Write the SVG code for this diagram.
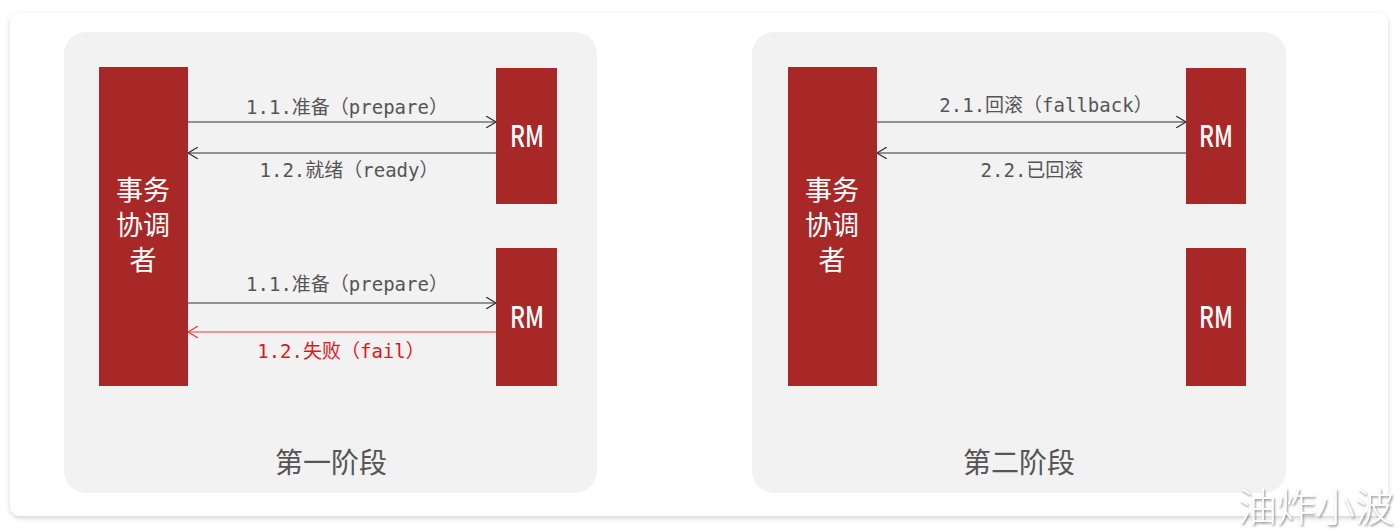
<svg xmlns="http://www.w3.org/2000/svg" width="1400" height="531" viewBox="0 0 1400 531">
<defs>
<filter id="sh" x="-5%" y="-5%" width="110%" height="115%"><feDropShadow dx="0" dy="2" stdDeviation="2.5" flood-color="#000" flood-opacity="0.18"/></filter>
<filter id="wm" x="-10%" y="-20%" width="120%" height="150%"><feDropShadow dx="1" dy="1.5" stdDeviation="1" flood-color="#666" flood-opacity="0.8"/></filter>
<marker id="ah" viewBox="0 0 10 12" refX="10" refY="6" markerWidth="10" markerHeight="12" markerUnits="userSpaceOnUse" orient="auto"><path d="M0,0 L10,6 L0,12" fill="none" stroke="#333" stroke-width="1.2"/></marker>
<marker id="ahr" viewBox="0 0 10 12" refX="10" refY="6" markerWidth="10" markerHeight="12" markerUnits="userSpaceOnUse" orient="auto"><path d="M0,0 L10,6 L0,12" fill="none" stroke="#f03a3a" stroke-width="1.2"/></marker>
</defs>
<style>
.panel{fill:#f2f2f2}
.box{fill:#a82828}
.big{font-family:"Noto Sans CJK SC",sans-serif;font-size:27px;fill:#fff;text-anchor:middle}
.rm{font-family:"Noto Sans CJK SC",sans-serif;font-size:29px;font-weight:500;fill:#fff;text-anchor:middle}
.lbl{font-family:"DejaVu Sans Mono","Noto Sans CJK SC",monospace;font-size:19px;fill:#555;text-anchor:middle}
.red{fill:#e8131a}
.ln{stroke:#333;stroke-width:1.2;fill:none}
.lnr{stroke:#f03a3a;stroke-width:1.2;fill:none}
.stage{font-family:"Noto Sans CJK SC",sans-serif;font-size:28px;fill:#555;text-anchor:middle}
</style>
<rect width="1400" height="531" fill="#fff"/>
<rect x="10" y="13" width="1378" height="503" rx="10" fill="#fff" filter="url(#sh)"/>
<g id="panel1"><rect class="panel" x="64" y="32" width="533" height="461" rx="22"/><text class="stage" x="331" y="473">第一阶段</text></g>
<g id="panel2"><rect class="panel" x="752" y="32" width="534" height="461" rx="22"/><text class="stage" x="1019" y="473">第二阶段</text></g>
<g id="coord1"><rect class="box" x="99" y="67" width="89" height="319"/><text class="big"><tspan x="143" y="200">事务</tspan><tspan x="143" y="235">协调</tspan><tspan x="143" y="270">者</tspan></text></g>
<g id="rm1a"><rect class="box" x="496" y="68" width="61" height="136"/><text class="rm" x="527" y="147" textLength="34" lengthAdjust="spacingAndGlyphs">RM</text></g>
<g id="rm1b"><rect class="box" x="496" y="248" width="61" height="138"/><text class="rm" x="527" y="328" textLength="34" lengthAdjust="spacingAndGlyphs">RM</text></g>
<g id="coord2"><rect class="box" x="788" y="67" width="89" height="319"/><text class="big"><tspan x="832" y="200">事务</tspan><tspan x="832" y="235">协调</tspan><tspan x="832" y="270">者</tspan></text></g>
<g id="rm2a"><rect class="box" x="1186" y="68" width="60" height="136"/><text class="rm" x="1216" y="147" textLength="34" lengthAdjust="spacingAndGlyphs">RM</text></g>
<g id="rm2b"><rect class="box" x="1186" y="248" width="60" height="138"/><text class="rm" x="1216" y="328" textLength="34" lengthAdjust="spacingAndGlyphs">RM</text></g>
<g id="connectors">
<line class="ln" x1="188" y1="122" x2="496" y2="122" marker-end="url(#ah)"/>
<line class="ln" x1="496" y1="153" x2="188" y2="153" marker-end="url(#ah)"/>
<line class="ln" x1="188" y1="303" x2="496" y2="303" marker-end="url(#ah)"/>
<line class="lnr" x1="496" y1="332" x2="188" y2="332" marker-end="url(#ahr)"/>
<line class="ln" x1="877" y1="122" x2="1186" y2="122" marker-end="url(#ah)"/>
<line class="ln" x1="1186" y1="153" x2="877" y2="153" marker-end="url(#ah)"/>
<text class="lbl" x="347" y="114">1.1.准备（prepare）</text>
<text class="lbl" x="349" y="177">1.2.就绪（ready）</text>
<text class="lbl" x="347" y="291">1.1.准备（prepare）</text>
<text class="lbl red" x="341" y="358">1.2.失败（fail）</text>
<text class="lbl" x="1046" y="112">2.1.回滚（fallback）</text>
<text class="lbl" x="1032" y="177">2.2.已回滚</text>
</g>
<text x="1316" y="521" font-family="Noto Sans CJK SC,sans-serif" font-size="39" fill="#fff" text-anchor="middle" filter="url(#wm)" font-weight="300">油炸小波</text>
</svg>
